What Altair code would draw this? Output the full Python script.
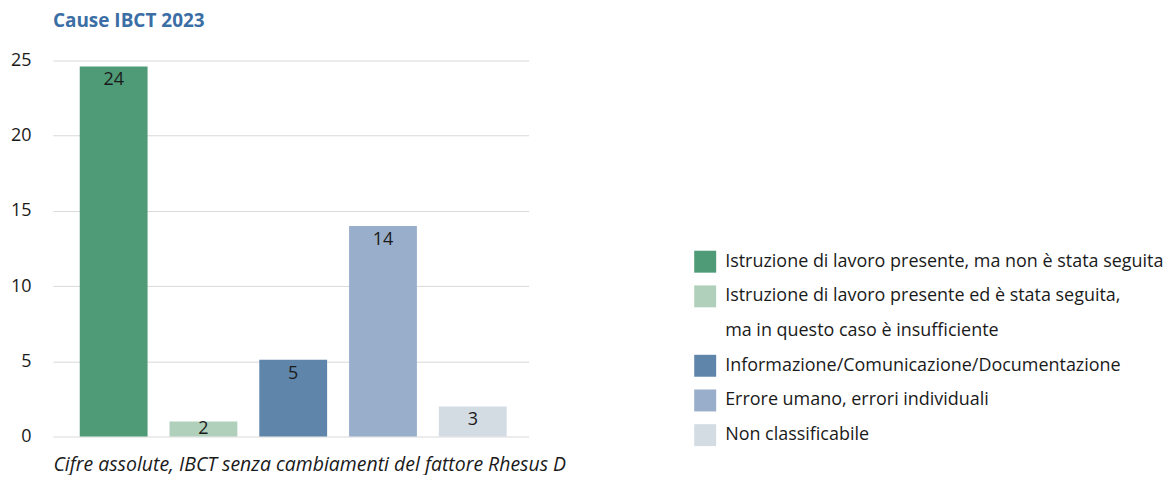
import altair as alt
import pandas as pd

# ---- data ----
categories = [
    "Istruzione di lavoro presente, ma non è stata seguita",
    "Istruzione di lavoro presente ed è stata seguita, ma in questo caso è insufficiente",
    "Informazione/Comunicazione/Documentazione",
    "Errore umano, errori individuali",
    "Non classificabile",
]
bar_heights = [24.6, 1.0, 5.1, 14.0, 2.0]
bar_labels = ["24", "2", "5", "14", "3"]
colors = ["#4f9a77", "#b0d0bc", "#5f85aa", "#98aeca", "#d3dce3"]
y_ticks = [0, 5, 10, 15, 20, 25]

legend_lines = [
    "Istruzione di lavoro presente, ma non è stata seguita",
    "Istruzione di lavoro presente ed è stata seguita,",
    "ma in questo caso è insufficiente",
    "Informazione/Comunicazione/Documentazione",
    "Errore umano, errori individuali",
    "Non classificabile",
]
legend_line_category = [categories[0], categories[1], "", categories[2], categories[3], categories[4]]

title_text = "Cause IBCT 2023"
caption_text = "Cifre assolute, IBCT senza cambiamenti del fattore Rhesus D"

FONT = "Open Sans"
TXT = "#1a1a1a"

bars_df = pd.DataFrame({"cat": categories, "h": bar_heights, "lab": bar_labels})
color_scale = alt.Scale(domain=categories, range=colors)

y_axis = alt.Axis(
    values=y_ticks,
    title=None,
    domain=False,
    ticks=False,
    labelPadding=22,
    labelFont=FONT,
    labelFontSize=18,
    labelColor=TXT,
    gridColor="#d9d9d9",
)

base = alt.Chart(bars_df).encode(
    x=alt.X(
        "cat:N",
        sort=categories,
        scale=alt.Scale(paddingInner=0.2444, paddingOuter=0.272, align=0.55),
        axis=alt.Axis(
            title=caption_text,
            labels=False,
            ticks=False,
            domain=False,
            grid=False,
            titleFont=FONT,
            titleFontSize=19.5,
            titleFontStyle="italic",
            titleFontWeight="normal",
            titleColor=TXT,
            titleAnchor="start",
            titleAlign="left",
            titlePadding=19,
        ),
    )
)

bars = base.mark_bar().encode(
    y=alt.Y("h:Q", scale=alt.Scale(domain=[0, 25], nice=False), axis=y_axis),
    color=alt.Color("cat:N", scale=color_scale, legend=None),
)

labels = (
    base.transform_calculate(ly="max(datum.h, 1.45)")
    .mark_text(baseline="middle", dy=14, font=FONT, fontSize=18, color=TXT)
    .encode(y=alt.Y("ly:Q", axis=y_axis), text="lab:N")
)

main = alt.layer(bars, labels).properties(
    width=477,
    height=377,
    title=alt.TitleParams(
        title_text,
        anchor="start",
        frame="group",
        font=FONT,
        fontSize=19,
        fontWeight="bold",
        color="#3b6ea5",
        offset=21,
    ),
)

leg_df = pd.DataFrame({"row": list(range(len(legend_lines))), "text": legend_lines, "cat": legend_line_category})
leg_y = alt.Y("row:Q", axis=None, scale=alt.Scale(domain=[-5.8, 5.7], reverse=True, nice=False, zero=False))

swatches = (
    alt.Chart(leg_df)
    .transform_filter("datum.cat != ''")
    .mark_square(size=484, opacity=1)
    .encode(x=alt.value(11), y=leg_y, color=alt.Color("cat:N", scale=color_scale, legend=None))
)
leg_text = (
    alt.Chart(leg_df)
    .mark_text(align="left", baseline="middle", font=FONT, fontSize=18, color=TXT)
    .encode(x=alt.value(31), y=leg_y, text="text:N")
)
legend = alt.layer(swatches, leg_text).properties(width=440, height=400)

chart = (
    alt.hconcat(main, legend, spacing=128)
    .properties(padding={"left": 2, "top": 3, "right": 0, "bottom": 0})
    .configure_view(stroke=None)
)

chart.save("out.html", embed_options={"renderer": "svg", "actions": False})
